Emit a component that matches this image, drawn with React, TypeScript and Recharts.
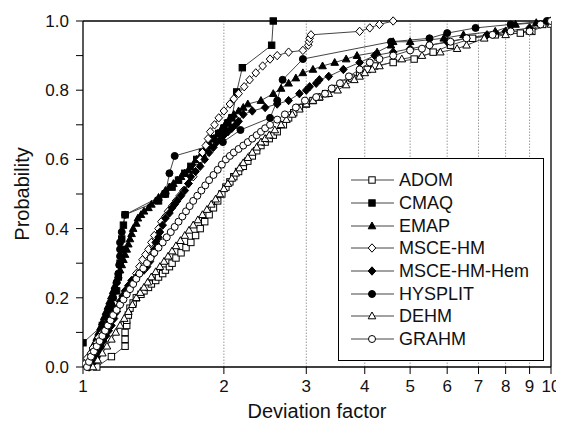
import React from "react";
import { LineChart, Line, XAxis, YAxis, ReferenceLine, Legend } from "recharts";

type Pt = [number, number];

const xTicks = [1, 2, 3, 4, 5, 6, 7, 8, 9, 10];
const yTicks = [0, 0.1, 0.2, 0.3, 0.4, 0.5, 0.6, 0.7, 0.8, 0.9, 1.0];
const gridX = [2, 3, 4, 5, 6, 7, 8, 9];

// deviation factor, cumulative probability
const ADOM: Pt[] = [
  [1.07, 0.0], [1.15, 0.03], [1.23, 0.06], [1.23, 0.08], [1.23, 0.1], [1.24, 0.12], [1.24, 0.135],
  [1.25, 0.15], [1.26, 0.17], [1.28, 0.185], [1.3, 0.2], [1.33, 0.21], [1.35, 0.22], [1.38, 0.23],
  [1.4, 0.24], [1.43, 0.25], [1.45, 0.26], [1.48, 0.27], [1.5, 0.28], [1.53, 0.29], [1.55, 0.3],
  [1.58, 0.315], [1.62, 0.33], [1.66, 0.345], [1.7, 0.36], [1.74, 0.38], [1.78, 0.4], [1.82, 0.42],
  [1.86, 0.44], [1.9, 0.46], [1.94, 0.48], [1.98, 0.5], [2.02, 0.52], [2.06, 0.535], [2.1, 0.55],
  [2.15, 0.565], [2.2, 0.58], [2.25, 0.595], [2.3, 0.61], [2.35, 0.625], [2.4, 0.64], [2.45, 0.65],
  [2.5, 0.66], [2.55, 0.67], [2.6, 0.68], [2.68, 0.7], [2.75, 0.72], [2.82, 0.735], [2.9, 0.75],
  [3.0, 0.76], [3.1, 0.77], [3.2, 0.78], [3.3, 0.79], [3.45, 0.805], [3.6, 0.82], [3.75, 0.835],
  [3.9, 0.85], [4.05, 0.86], [4.2, 0.87], [4.6, 0.88], [5.1, 0.89], [5.6, 0.91], [6.1, 0.93],
  [6.8, 0.95], [7.6, 0.96], [8.6, 0.965], [9.1, 0.97], [9.6, 0.99], [10, 1.0],
];
const CMAQ: Pt[] = [
  [1.0, 0.07], [1.1, 0.12], [1.15, 0.17], [1.18, 0.22], [1.19, 0.26], [1.2, 0.3], [1.21, 0.34],
  [1.21, 0.37], [1.22, 0.41], [1.23, 0.44], [1.45, 0.48], [1.5, 0.5], [1.55, 0.52], [1.6, 0.54],
  [1.65, 0.56], [1.7, 0.58], [1.75, 0.6], [1.8, 0.62], [1.85, 0.64], [1.9, 0.66], [1.95, 0.675],
  [2.0, 0.69], [2.04, 0.705], [2.08, 0.72], [2.13, 0.795], [2.19, 0.865], [2.53, 0.93], [2.55, 1.0],
];
const EMAP: Pt[] = [
  [1.02, 0.01], [1.03, 0.025], [1.04, 0.04], [1.05, 0.055], [1.06, 0.07], [1.07, 0.085], [1.08, 0.1],
  [1.09, 0.115], [1.1, 0.13], [1.11, 0.145], [1.12, 0.16], [1.13, 0.175], [1.14, 0.19], [1.15, 0.205],
  [1.16, 0.22], [1.17, 0.235], [1.18, 0.25], [1.19, 0.265], [1.2, 0.28], [1.21, 0.295], [1.22, 0.31],
  [1.23, 0.325], [1.24, 0.34], [1.25, 0.355], [1.26, 0.37], [1.27, 0.385], [1.28, 0.4], [1.3, 0.415],
  [1.31, 0.43], [1.33, 0.44], [1.35, 0.45], [1.38, 0.46], [1.4, 0.47], [1.43, 0.48], [1.45, 0.49],
  [1.48, 0.5], [1.5, 0.51], [1.53, 0.52], [1.56, 0.53], [1.59, 0.54], [1.62, 0.55], [1.65, 0.56],
  [1.68, 0.57], [1.72, 0.585], [1.75, 0.6], [1.79, 0.615], [1.82, 0.63], [1.86, 0.645], [1.9, 0.66],
  [1.94, 0.675], [1.98, 0.69], [2.02, 0.705], [2.06, 0.72], [2.1, 0.73], [2.15, 0.74], [2.2, 0.75],
  [2.25, 0.76], [2.4, 0.77], [2.55, 0.79], [2.65, 0.805], [2.75, 0.82], [2.85, 0.835], [2.95, 0.85],
  [3.1, 0.86], [3.25, 0.87], [3.45, 0.88], [3.65, 0.89], [3.85, 0.9], [4.25, 0.91], [4.55, 0.93],
  [4.6, 0.94], [5.0, 0.94], [5.9, 0.95], [6.5, 0.96], [7.6, 0.97], [8.4, 0.99], [9.3, 0.995], [10, 1.0],
];
const MSCE_HM: Pt[] = [
  [1.01, 0.01], [1.02, 0.025], [1.04, 0.04], [1.05, 0.055], [1.07, 0.07], [1.08, 0.085], [1.1, 0.1],
  [1.12, 0.115], [1.14, 0.13], [1.16, 0.145], [1.18, 0.16], [1.2, 0.18], [1.22, 0.2], [1.24, 0.215],
  [1.26, 0.23], [1.28, 0.25], [1.3, 0.27], [1.32, 0.29], [1.34, 0.31], [1.36, 0.325], [1.38, 0.34],
  [1.4, 0.36], [1.42, 0.38], [1.45, 0.4], [1.47, 0.42], [1.5, 0.435], [1.52, 0.45], [1.55, 0.465],
  [1.58, 0.48], [1.61, 0.495], [1.64, 0.51], [1.68, 0.53], [1.72, 0.55], [1.75, 0.575], [1.78, 0.6],
  [1.8, 0.62], [1.83, 0.64], [1.85, 0.66], [1.87, 0.68], [1.91, 0.7], [1.95, 0.72], [2.0, 0.74],
  [2.06, 0.76], [2.1, 0.775], [2.15, 0.79], [2.21, 0.81], [2.27, 0.83], [2.34, 0.85], [2.42, 0.87],
  [2.51, 0.89], [2.6, 0.9], [2.75, 0.91], [2.95, 0.915], [3.03, 0.93], [3.04, 0.94], [3.05, 0.95],
  [3.07, 0.96], [3.9, 0.97], [4.1, 0.98], [4.3, 0.99], [4.6, 1.0],
];
const MSCE_HM_HEM: Pt[] = [
  [1.03, 0.0], [1.045, 0.015], [1.06, 0.03], [1.075, 0.045], [1.09, 0.06], [1.105, 0.075], [1.12, 0.09],
  [1.135, 0.105], [1.15, 0.12], [1.165, 0.14], [1.18, 0.16], [1.19, 0.175], [1.2, 0.19], [1.215, 0.205],
  [1.23, 0.22], [1.25, 0.235], [1.27, 0.25], [1.3, 0.26], [1.32, 0.27], [1.35, 0.28], [1.37, 0.29],
  [1.39, 0.305], [1.4, 0.32], [1.42, 0.34], [1.43, 0.36], [1.45, 0.375], [1.46, 0.39], [1.48, 0.41],
  [1.5, 0.43], [1.53, 0.445], [1.55, 0.46], [1.57, 0.47], [1.59, 0.48], [1.62, 0.495], [1.65, 0.51],
  [1.68, 0.53], [1.7, 0.55], [1.74, 0.565], [1.78, 0.58], [1.82, 0.6], [1.86, 0.62], [1.9, 0.635],
  [1.93, 0.65], [1.97, 0.66], [2.0, 0.67], [2.04, 0.68], [2.08, 0.69], [2.12, 0.7], [2.15, 0.71],
  [2.2, 0.73], [2.3, 0.74], [2.45, 0.75], [2.6, 0.76], [2.75, 0.77], [2.9, 0.79], [3.0, 0.8],
  [3.05, 0.81], [3.15, 0.82], [3.2, 0.83], [3.35, 0.84], [3.6, 0.86], [3.9, 0.88], [4.2, 0.9],
  [4.6, 0.91], [5.0, 0.92], [5.5, 0.93], [6.0, 0.94], [6.6, 0.95], [7.3, 0.96], [8.0, 0.97],
  [9.0, 0.98], [10, 1.0],
];
const HYSPLIT: Pt[] = [
  [1.03, 0.0], [1.05, 0.015], [1.07, 0.03], [1.09, 0.06], [1.1, 0.08], [1.11, 0.1], [1.12, 0.12],
  [1.13, 0.14], [1.14, 0.16], [1.15, 0.18], [1.16, 0.2], [1.17, 0.22], [1.18, 0.245], [1.19, 0.27],
  [1.195, 0.295], [1.2, 0.32], [1.2, 0.34], [1.2, 0.36], [1.21, 0.39], [1.23, 0.44], [1.5, 0.5],
  [1.53, 0.56], [1.57, 0.61], [1.99, 0.65], [2.17, 0.685], [2.51, 0.72], [2.6, 0.77], [2.67, 0.83],
  [2.95, 0.89], [4.55, 0.94], [5.5, 0.95], [6.0, 0.965], [6.9, 0.98], [8.2, 0.99], [9.8, 1.0],
];
const DEHM: Pt[] = [
  [1.05, 0.0], [1.075, 0.02], [1.1, 0.04], [1.125, 0.06], [1.15, 0.08], [1.175, 0.1], [1.2, 0.12],
  [1.225, 0.14], [1.25, 0.16], [1.275, 0.18], [1.3, 0.2], [1.325, 0.215], [1.35, 0.23], [1.375, 0.245],
  [1.4, 0.26], [1.43, 0.275], [1.46, 0.29], [1.49, 0.305], [1.52, 0.32], [1.55, 0.335], [1.58, 0.35],
  [1.615, 0.365], [1.65, 0.38], [1.685, 0.395], [1.72, 0.41], [1.76, 0.425], [1.8, 0.44], [1.84, 0.455],
  [1.88, 0.47], [1.92, 0.485], [1.96, 0.5], [2.0, 0.515], [2.04, 0.53], [2.08, 0.545], [2.12, 0.56],
  [2.16, 0.575], [2.2, 0.59], [2.25, 0.605], [2.3, 0.62], [2.35, 0.635], [2.4, 0.65], [2.45, 0.66],
  [2.5, 0.67], [2.57, 0.685], [2.65, 0.7], [2.72, 0.715], [2.8, 0.73], [2.9, 0.745], [3.0, 0.76],
  [3.1, 0.77], [3.2, 0.78], [3.35, 0.79], [3.5, 0.8], [3.65, 0.815], [3.8, 0.83], [3.9, 0.84],
  [4.0, 0.85], [4.15, 0.86], [4.3, 0.87], [4.8, 0.89], [5.3, 0.9], [5.8, 0.91], [6.3, 0.92],
  [6.6, 0.93], [7.2, 0.95], [8.0, 0.96], [9.0, 0.97], [10, 0.99],
];
const GRAHM: Pt[] = [
  [1.02, 0.0], [1.03, 0.015], [1.04, 0.03], [1.055, 0.045], [1.07, 0.06], [1.085, 0.075], [1.1, 0.09],
  [1.115, 0.105], [1.13, 0.12], [1.145, 0.135], [1.16, 0.15], [1.18, 0.165], [1.2, 0.18], [1.22, 0.195],
  [1.24, 0.21], [1.26, 0.225], [1.28, 0.24], [1.3, 0.255], [1.32, 0.27], [1.345, 0.285], [1.37, 0.3],
  [1.395, 0.315], [1.42, 0.33], [1.45, 0.345], [1.48, 0.36], [1.51, 0.375], [1.54, 0.39], [1.57, 0.405],
  [1.6, 0.42], [1.63, 0.435], [1.66, 0.45], [1.69, 0.465], [1.72, 0.48], [1.755, 0.495], [1.79, 0.51],
  [1.825, 0.525], [1.86, 0.54], [1.9, 0.555], [1.94, 0.57], [1.98, 0.585], [2.02, 0.6], [2.06, 0.61],
  [2.1, 0.62], [2.15, 0.63], [2.2, 0.64], [2.25, 0.65], [2.3, 0.66], [2.35, 0.67], [2.4, 0.68],
  [2.45, 0.69], [2.51, 0.7], [2.6, 0.715], [2.7, 0.73], [2.85, 0.75], [2.98, 0.77], [3.15, 0.78],
  [3.29, 0.79], [3.4, 0.805], [3.54, 0.82], [3.7, 0.84], [3.9, 0.86], [4.1, 0.88], [4.3, 0.89],
  [4.6, 0.9], [5.0, 0.915], [5.3, 0.92], [5.5, 0.93], [6.1, 0.94], [6.6, 0.95], [7.5, 0.96],
  [8.2, 0.97], [9.0, 0.97], [9.5, 0.99], [10, 1.0],
];

type Kind = "square" | "triangle" | "diamond" | "circle";

const series: { name: string; pts: Pt[]; kind: Kind; filled: boolean }[] = [
  { name: "ADOM", pts: ADOM, kind: "square", filled: false },
  { name: "CMAQ", pts: CMAQ, kind: "square", filled: true },
  { name: "EMAP", pts: EMAP, kind: "triangle", filled: true },
  { name: "MSCE-HM", pts: MSCE_HM, kind: "diamond", filled: false },
  { name: "MSCE-HM-Hem", pts: MSCE_HM_HEM, kind: "diamond", filled: true },
  { name: "HYSPLIT", pts: HYSPLIT, kind: "circle", filled: true },
  { name: "DEHM", pts: DEHM, kind: "triangle", filled: false },
  { name: "GRAHM", pts: GRAHM, kind: "circle", filled: false },
];

const FONT = "'Liberation Sans', Arial, Helvetica, sans-serif";

function Marker({ cx, cy, kind, filled }: { cx: number; cy: number; kind: Kind; filled: boolean }) {
  const fill = filled ? "#000" : "#fff";
  const common = { fill, stroke: "#000", strokeWidth: 1 };
  if (kind === "square") return <rect x={cx - 3.2} y={cy - 3.2} width={6.4} height={6.4} {...common} />;
  if (kind === "circle") return <circle cx={cx} cy={cy} r={3.5} {...common} />;
  if (kind === "triangle")
    return <path d={`M${cx},${cy - 4}L${cx + 3.8},${cy + 2.8}L${cx - 3.8},${cy + 2.8}Z`} {...common} />;
  return <path d={`M${cx},${cy - 4.2}L${cx + 3.8},${cy}L${cx},${cy + 4.2}L${cx - 3.8},${cy}Z`} {...common} />;
}

const makeDot = (kind: Kind, filled: boolean) => (props: any) => {
  if (props.cx == null || props.cy == null) return <g key={props.index} />;
  return (
    <g key={props.index}>
      <Marker cx={props.cx} cy={props.cy} kind={kind} filled={filled} />
    </g>
  );
};

function LegendBox() {
  return (
    <div
      style={{
        border: "1px solid #000",
        background: "#fff",
        padding: "10px 0 9px 11px",
        boxSizing: "border-box",
        width: 206,
        height: 203,
        fontFamily: FONT,
        fontSize: 18,
        color: "#111",
      }}
    >
      {series.map((s) => (
        <div key={s.name} style={{ display: "flex", alignItems: "center", height: 22.7 }}>
          <svg width={46} height={16}>
            <line x1={1} y1={8} x2={44} y2={8} stroke="#444" strokeWidth={1} />
            <Marker cx={22} cy={8} kind={s.kind} filled={s.filled} />
          </svg>
          <span style={{ marginLeft: 3, lineHeight: "18px" }}>{s.name}</span>
        </div>
      ))}
    </div>
  );
}

const YTitle = () => (
  <text
    x={14}
    y={186}
    transform="rotate(-90 14 186)"
    textAnchor="middle"
    dominantBaseline="central"
    fontFamily={FONT}
    fontSize={20}
    fill="#111"
  >
    Probability
  </text>
);

const XTitle = () => (
  <text x={309} y={403} textAnchor="middle" dominantBaseline="central" fontFamily={FONT} fontSize={20} fill="#111">
    Deviation factor
  </text>
);

export default function App() {
  const tickStyle = { fontSize: 17, fill: "#111", fontFamily: FONT };
  return (
    <div style={{ fontFamily: FONT }}>
      <LineChart width={556} height={419} margin={{ top: 13, right: 13, left: 20, bottom: 0 }}>
        <XAxis
          dataKey="x"
          type="number"
          scale="log"
          domain={[1, 10]}
          ticks={xTicks}
          interval={0}
          allowDataOverflow
          height={60}
          tickSize={7}
          tickMargin={6}
          tick={tickStyle}
          stroke="#000"
          axisLine={{ stroke: "#000", strokeWidth: 1.3 }}
          tickLine={{ stroke: "#000" }}
          label={<XTitle />}
        />
        <YAxis
          type="number"
          domain={[0, 1]}
          ticks={yTicks}
          interval={0}
          width={55}
          tickSize={7}
          tickMargin={7}
          tick={tickStyle}
          tickFormatter={(v: number) => (Math.round(v * 10) % 2 === 0 ? v.toFixed(1) : "")}
          axisLine={{ stroke: "#000", strokeWidth: 1.3 }}
          tickLine={{ stroke: "#000" }}
          label={<YTitle />}
        />
        {gridX.map((g) => (
          <ReferenceLine key={g} x={g} stroke="#9a9a9a" strokeDasharray="1.5 1.5" strokeWidth={1} />
        ))}
        <ReferenceLine y={1} stroke="#000" strokeWidth={1.3} />
        <ReferenceLine x={10} stroke="#000" strokeWidth={1.3} />
        {series.map((s) => (
          <Line
            key={s.name}
            name={s.name}
            data={s.pts.map(([x, p]) => ({ x, p }))}
            dataKey="p"
            type="linear"
            stroke="#444"
            strokeWidth={1}
            dot={makeDot(s.kind, s.filled)}
            activeDot={false}
            isAnimationActive={false}
          />
        ))}
        <Legend
          layout="vertical"
          align="center"
          verticalAlign="middle"
          wrapperStyle={{ left: 330, top: 150, width: 206, height: 203 }}
          content={() => <LegendBox />}
        />
      </LineChart>
    </div>
  );
}
